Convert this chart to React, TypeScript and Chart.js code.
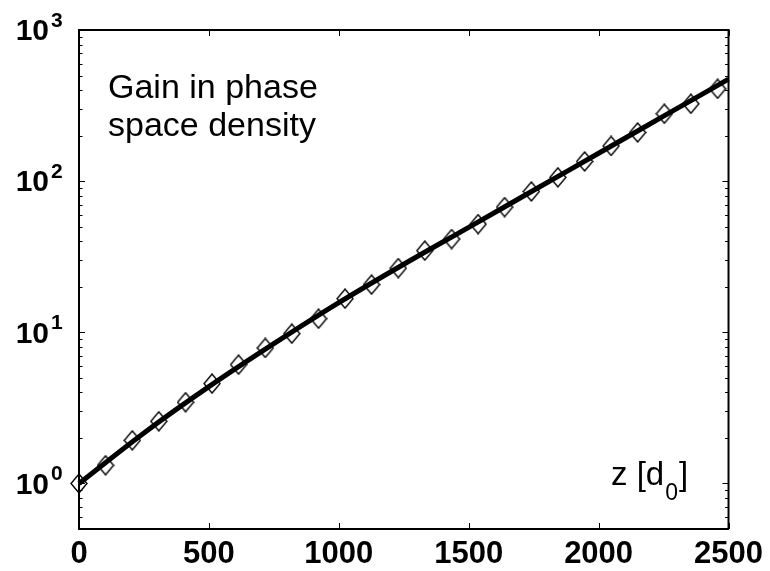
import { useEffect, useRef } from 'react';
import { Chart, registerables } from 'chart.js';

Chart.register(...registerables);

// ---- data ----
const xTicks = [0, 500, 1000, 1500, 2000, 2500];
const yDecades = [1, 10, 100, 1000];
const yExponents = ['0', '1', '2', '3'];

const curveX = [0, 250, 500, 750, 1000, 1250, 1500, 1750, 2000, 2250, 2500];
const curveY = [1.0, 2.16, 4.37, 8.41, 15.7, 28.2, 49.5, 87.1, 153, 269, 473];

const markerX = [0, 102, 205, 307, 410, 512, 614, 717, 819, 922, 1024, 1126, 1229, 1331, 1434, 1536, 1638, 1741, 1843, 1946, 2048, 2150, 2253, 2355, 2458];
const markerY = [1.0, 1.32, 1.93, 2.58, 3.45, 4.58, 6.11, 7.88, 9.8, 12.3, 16.7, 20.7, 26.6, 34.7, 41.4, 52, 67.4, 85.5, 106, 135, 171, 210, 279, 325, 408];

const noteLines = ['Gain in phase', 'space density'];
const xLabelMain = 'z [d';
const xLabelSub = '0';
const xLabelEnd = ']';

const FONT = "'Liberation Sans', Arial, Helvetica, sans-serif";

function makeDiamond(w: number, h: number, lw: number): HTMLCanvasElement {
  const c = document.createElement('canvas');
  c.width = w + 2;
  c.height = h + 2;
  const g = c.getContext('2d') as CanvasRenderingContext2D;
  g.strokeStyle = '#000';
  g.lineWidth = lw;
  g.beginPath();
  g.moveTo(c.width / 2, 1);
  g.lineTo(c.width - 1, c.height / 2);
  g.lineTo(c.width / 2, c.height - 1);
  g.lineTo(1, c.height / 2);
  g.closePath();
  g.stroke();
  return c;
}

const framePlugin = {
  id: 'frame',
  afterDraw(chart: any) {
    const { ctx, chartArea: a, scales } = chart;
    const x = scales.x;
    const y = scales.y;
    ctx.save();
    ctx.strokeStyle = '#000';
    ctx.fillStyle = '#000';

    // top and right box edges
    ctx.lineWidth = 2;
    ctx.beginPath();
    ctx.moveTo(a.left, a.top);
    ctx.lineTo(a.right, a.top);
    ctx.lineTo(a.right, a.bottom);
    ctx.stroke();

    // x ticks (inward, bottom and top)
    ctx.lineWidth = 1;
    ctx.beginPath();
    xTicks.forEach((v) => {
      const px = Math.round(x.getPixelForValue(v)) + 0.5;
      ctx.moveTo(px, a.bottom);
      ctx.lineTo(px, a.bottom - 6);
      ctx.moveTo(px, a.top);
      ctx.lineTo(px, a.top + 6);
    });
    // y ticks: majors and minors, inward on left and right
    const yMin = y.min;
    const yMax = y.max;
    for (let e = -1; e <= 3; e++) {
      for (let m = 1; m <= 9; m++) {
        const v = m * Math.pow(10, e);
        if (v < yMin - 1e-9 || v > yMax + 1e-9) continue;
        const py = Math.round(y.getPixelForValue(v)) + 0.5;
        const len = m === 1 ? 6 : 3.5;
        ctx.moveTo(a.left, py);
        ctx.lineTo(a.left + len, py);
        ctx.moveTo(a.right, py);
        ctx.lineTo(a.right - len, py);
      }
    }
    ctx.stroke();

    // y labels 10^k
    yDecades.forEach((v, i) => {
      const py = y.getPixelForValue(v);
      ctx.font = `bold 30px ${FONT}`;
      ctx.textAlign = 'right';
      ctx.textBaseline = 'middle';
      ctx.fillText('10', 49, py + 2);
      ctx.font = `bold 21px ${FONT}`;
      ctx.textAlign = 'left';
      ctx.textBaseline = 'alphabetic';
      ctx.fillText(yExponents[i], 51, py - 3);
    });

    // annotation
    ctx.font = `34px ${FONT}`;
    ctx.textAlign = 'left';
    ctx.textBaseline = 'alphabetic';
    ctx.fillText(noteLines[0], 108, 98);
    ctx.fillText(noteLines[1], 108, 136);

    // axis label z [d0]
    ctx.font = `33px ${FONT}`;
    const lx = 611;
    const ly = 485;
    ctx.fillText(xLabelMain, lx, ly);
    const w = ctx.measureText(xLabelMain).width;
    ctx.font = `23px ${FONT}`;
    ctx.fillText(xLabelSub, lx + w + 1, ly + 15);
    const ws = ctx.measureText(xLabelSub).width;
    ctx.font = `33px ${FONT}`;
    ctx.fillText(xLabelEnd, lx + w + 1 + ws + 1, ly);

    ctx.restore();
  },
};

export default function App() {
  const ref = useRef<HTMLCanvasElement | null>(null);

  useEffect(() => {
    const canvas = ref.current;
    if (!canvas) return;
    const diamond = makeDiamond(16, 19, 1.4);
    const chart = new Chart(canvas, {
      type: 'line',
      data: {
        datasets: [
          {
            label: 'fit',
            data: curveX.map((v, i) => ({ x: v, y: curveY[i] })),
            borderColor: '#000',
            borderWidth: 5,
            pointRadius: 0,
            cubicInterpolationMode: 'monotone',
            fill: false,
            order: 0,
            clip: false,
          },
          {
            label: 'gain',
            data: markerX.map((v, i) => ({ x: v, y: markerY[i] })),
            showLine: false,
            pointStyle: diamond,
            pointRadius: 8,
            pointBorderColor: '#000',
            pointBackgroundColor: 'rgba(0,0,0,0)',
            borderColor: '#000',
            order: 1,
            clip: false,
          },
        ],
      },
      options: {
        animation: false,
        responsive: false,
        devicePixelRatio: 1,
        events: [],
        layout: { padding: { left: 0, right: 39, top: 30, bottom: 0 } },
        plugins: {
          legend: { display: false },
          tooltip: { enabled: false },
        },
        scales: {
          x: {
            type: 'linear',
            min: 0,
            max: 2500,
            afterBuildTicks: (s: any) => {
              s.ticks = xTicks.map((v) => ({ value: v }));
            },
            ticks: {
              font: { family: FONT, size: 31, weight: 'bold' },
              color: '#000',
              padding: 7,
              maxRotation: 0,
              autoSkip: false,
              callback: (v: any) => String(v),
            },
            grid: { drawOnChartArea: false, drawTicks: false },
            border: { display: true, color: '#000', width: 2 },
            afterFit: (s: any) => {
              s.height = 42;
            },
          },
          y: {
            type: 'logarithmic',
            min: 0.5,
            max: 1000,
            ticks: { display: false },
            grid: { drawOnChartArea: false, drawTicks: false },
            border: { display: true, color: '#000', width: 2 },
            afterFit: (s: any) => {
              s.width = 79;
            },
          },
        },
      },
      plugins: [framePlugin],
    } as any);
    return () => chart.destroy();
  }, []);

  return (
    <div style={{ position: 'fixed', left: 0, top: 0, width: 770, height: 571, background: '#fff' }}>
      <canvas ref={ref} width={770} height={571} />
    </div>
  );
}
